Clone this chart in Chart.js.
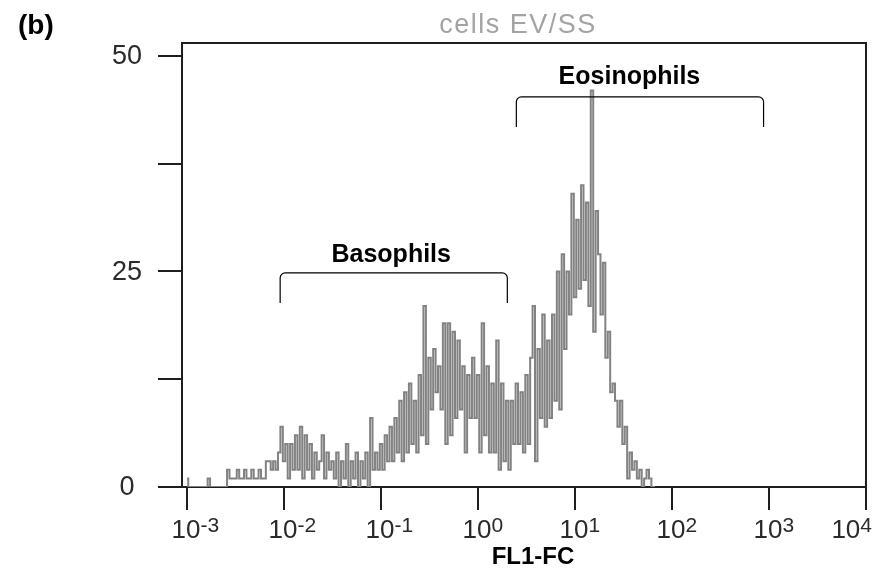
<!DOCTYPE html>
<html>
<head>
<meta charset="utf-8">
<title>cells EV/SS</title>
<script src="https://cdn.jsdelivr.net/npm/chart.js@4/dist/chart.umd.min.js"></script>
<style>
  html, body { margin: 0; padding: 0; background: #fff; }
  #chart { display: block; }
</style>
</head>
<body>
<canvas id="chart" width="888" height="573"></canvas>
<script>
// -----------------------------
// Data
// -----------------------------
const panelLabel = "(b)";
const chartTitle = "cells EV/SS";
const xAxisTitle = "FL1-FC";

// channel 0 sits at 10^-3, one channel every 0.025 decade
const binStart = -3;
const binWidth = 0.025;

const counts = [
  1, 0, 0, 0, 0, 0, 0, 0, 0, 1,
  0, 0, 0, 0, 0, 0, 0, 2, 1, 1,
  1, 2, 1, 1, 2, 1, 1, 2, 1, 1,
  2, 1, 1, 3, 3, 2, 3, 2, 4, 7,
  3, 5, 1, 5, 2, 6, 2, 7, 1, 6,
  2, 5, 1, 4, 2, 3, 6, 1, 4, 2,
  3, 1, 4, 0, 3, 1, 5, 0, 3, 1,
  4, 0, 3, 1, 4, 0, 8, 2, 4, 2,
  5, 2, 6, 3, 7, 3, 8, 4, 10, 3,
  11, 4, 12, 5, 10, 4, 13, 6, 21, 5,
  15, 9, 16, 11, 14, 9, 19, 5, 19, 6,
  18, 8, 17, 9, 14, 4, 13, 8, 15, 8,
  13, 4, 19, 6, 14, 4, 12, 4, 17, 2,
  12, 3, 10, 2, 10, 5, 12, 5, 11, 4,
  13, 5, 15, 21, 3, 16, 8, 20, 7, 17,
  8, 20, 10, 25, 9, 27, 16, 25, 20, 34,
  22, 31, 23, 35, 24, 33, 21, 46, 18, 32,
  27, 20, 26, 15, 18, 11, 12, 10, 7, 10,
  5, 7, 1, 4, 2, 3, 1, 2, 0, 1,
  2, 1, 0, 0
];

const xTickPowers = [-3, -2, -1, 0, 1, 2, 3, 4];
const yTickValues = [0, 12.5, 25, 37.5, 50];
const yTickLabels = ["0", "", "25", "", "50"];

// gates drawn above the peaks (log10 units / counts)
const gates = [
  { label: "Basophils",   from: -2.04, to: 0.302, top: 24.83, end: 21.35, labelX: -0.895, labelY: 26.1 },
  { label: "Eosinophils", from: 0.395, to: 2.944, top: 45.24, end: 41.76, labelX: 1.561,  labelY: 46.75 }
];

const points = counts.map((c, i) => ({ x: binStart + i * binWidth, y: c }));


// -----------------------------
// Frame, gates and labels
// -----------------------------
const FONT = "'Liberation Sans', Arial, sans-serif";
const AXIS = "#1e1e1e";

const overlay = {
  id: "overlay",
  afterDraw(chart) {

    const c = chart.ctx;
    const a = chart.chartArea;
    const xs = chart.scales.x;
    const ys = chart.scales.y;

    c.save();

    // top + right side of the box
    c.strokeStyle = AXIS;
    c.lineWidth = 2;
    c.beginPath();
    c.moveTo(a.left - 1, a.top);
    c.lineTo(a.right, a.top);
    c.lineTo(a.right, a.bottom);
    c.stroke();

    // gate brackets
    c.strokeStyle = "#000";
    c.lineWidth = 1.2;
    gates.forEach(g => {
      const x0 = xs.getPixelForValue(g.from);
      const x1 = xs.getPixelForValue(g.to);
      const yt = ys.getPixelForValue(g.top);
      const ye = ys.getPixelForValue(g.end);
      c.beginPath();
      c.moveTo(x0, ye);
      c.arcTo(x0, yt, x0 + 6, yt, 5);
      c.arcTo(x1, yt, x1, ye, 5);
      c.lineTo(x1, ye);
      c.stroke();

      c.fillStyle = "#000";
      c.font = "bold 25px " + FONT;
      c.textAlign = "center";
      c.textBaseline = "alphabetic";
      c.fillText(g.label, xs.getPixelForValue(g.labelX), ys.getPixelForValue(g.labelY));
    });

    // y tick labels
    c.fillStyle = "#2a2a2a";
    c.font = "27px " + FONT;
    c.textAlign = "center";
    c.textBaseline = "middle";
    yTickValues.forEach((v, i) => {
      if (yTickLabels[i]) c.fillText(yTickLabels[i], 127, ys.getPixelForValue(v) + 1);
    });

    // x tick labels: 10 with raised exponent
    c.textBaseline = "alphabetic";
    xTickPowers.forEach((p, i) => {
      const px = xs.getPixelForValue(p);
      const exp = p < 0 ? "-" + Math.abs(p) : String(p);
      c.font = "26px " + FONT;
      const wBase = c.measureText("10").width;
      c.font = "21px " + FONT;
      const wExp = c.measureText(exp).width;
      let left = px - wBase / 2 - 1;
      if (i === xTickPowers.length - 1) left = px + 6 - wBase - wExp;
      c.textAlign = "left";
      c.font = "26px " + FONT;
      c.fillText("10", left, 538);
      c.font = "21px " + FONT;
      c.fillText(exp, left + wBase, 532);
    });

    // axis title
    c.fillStyle = "#000";
    c.font = "bold 24px " + FONT;
    c.textAlign = "center";
    c.fillText(xAxisTitle, 533, 564);

    // chart title
    c.fillStyle = "#a3a3a3";
    c.font = "27px " + FONT;
    c.letterSpacing = "1.5px";
    c.fillText(chartTitle, 518, 33);
    c.letterSpacing = "0px";

    // panel letter
    c.fillStyle = "#000";
    c.font = "bold 28px " + FONT;
    c.textAlign = "left";
    c.fillText(panelLabel, 18, 34);

    c.restore();
  }
};


// -----------------------------
// Chart
// -----------------------------
const ctx = document.getElementById("chart").getContext("2d");

new Chart(ctx, {

  type: "line",

  data: {
    datasets: [{
      label: chartTitle,
      data: points,
      borderColor: "#828282",
      borderWidth: 2,
      pointRadius: 0,
      stepped: "middle",
      fill: false
    }]
  },

  options: {
    responsive: false,
    animation: false,
    layout: { padding: { top: 43, right: 22, left: 0, bottom: 0 } },
    plugins: {
      legend: { display: false },
      tooltip: { enabled: false },
      title: { display: false }
    },
    scales: {
      x: {
        type: "linear",
        min: -3.052,
        max: 4,
        afterBuildTicks: s => { s.ticks = xTickPowers.map(v => ({ value: v })); },
        afterFit: s => { s.height = 86; },
        ticks: { display: false },
        grid: { drawOnChartArea: false, drawTicks: true, tickLength: 23, color: AXIS, lineWidth: 2 },
        border: { display: true, color: AXIS, width: 2 }
      },
      y: {
        type: "linear",
        min: 0,
        max: 51.5,
        afterBuildTicks: s => { s.ticks = yTickValues.map(v => ({ value: v })); },
        afterFit: s => { s.width = 182; },
        ticks: { display: false },
        grid: { drawOnChartArea: false, drawTicks: true, tickLength: 24, color: AXIS, lineWidth: 2 },
        border: { display: true, color: AXIS, width: 2 }
      }
    }
  },

  plugins: [overlay]

});
</script>
</body>
</html>
